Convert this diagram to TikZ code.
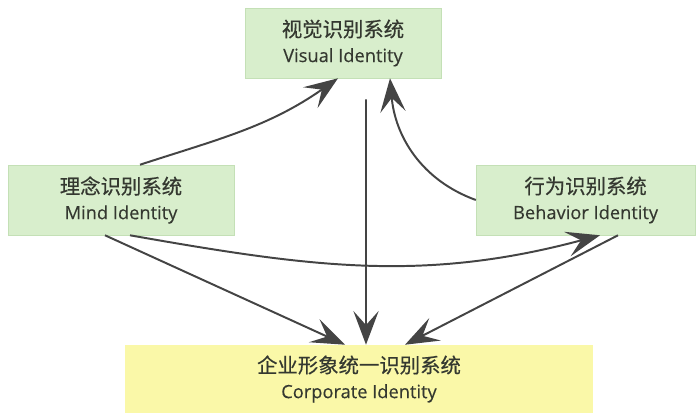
\documentclass[tikz,border=0pt]{standalone}
\usepackage{fontspec}
\setmainfont[FakeBold=0.25]{Open Sans}
\newfontfamily\cjk[FakeBold=0.5]{Noto Sans CJK SC}
\usetikzlibrary{arrows.meta, positioning}
\definecolor{cigreen}{RGB}{216, 238, 204}
\definecolor{cigreenedge}{RGB}{196, 224, 182}
\definecolor{ciyellow}{RGB}{250, 248, 168}
\definecolor{citext}{RGB}{52, 56, 48}
\definecolor{ciarrow}{RGB}{68, 68, 68}
\tikzset{
  cibox/.style={rectangle, draw=cigreenedge, fill=cigreen, text=citext,
                minimum width=#1, minimum height=1.75cm, align=center,
                font=\fontsize{13}{18}\selectfont},
  cibox/.default=5.5cm,
  corpbox/.style={rectangle, draw=none, fill=ciyellow, text=citext,
                  minimum width=11.7cm, minimum height=1.7cm, align=center,
                  font=\fontsize{13}{18}\selectfont},
  flow/.style={-{Stealth[length=24pt, width=18pt, inset=10pt]}, line width=1.4pt, color=ciarrow},
}
\begin{document}
\begin{tikzpicture}
  \useasboundingbox (0,0) rectangle (17.5,10.325);

  % the four systems
  \node[cibox=4.9cm] (vis) at (8.575, 9.25) {{\cjk\fontsize{14.5}{18}\selectfont 视觉识别系统}\\Visual Identity};
  \node[cibox=5.65cm] (mind) at (3.025, 5.325) {{\cjk\fontsize{14.5}{18}\selectfont 理念识别系统}\\Mind Identity};
  \node[cibox=5.475cm] (beh) at (14.64, 5.325) {{\cjk\fontsize{14.5}{18}\selectfont 行为识别系统}\\Behavior Identity};
  \node[corpbox] (corp) at (8.975, 0.85) {{\cjk\fontsize{14.5}{18}\selectfont 企业形象统一识别系统}\\Corporate Identity};

  % links between them
  \draw[flow] ([xshift=0.475cm]mind.north) to[out=18, in=-145] ([xshift=-0.125cm]vis.south);
  \draw[flow] (beh.west) to[out=160, in=-85] ([xshift=1.175cm]vis.south);
  \draw[flow, line width=1.1pt, shorten <=15pt] ([xshift=0.575cm]vis.south) -- ([xshift=0.175cm]corp.north);
  \draw[flow] ([xshift=0.225cm]mind.south) to[out=-10, in=-165] ([xshift=0.36cm]beh.south);
  \draw[flow] ([xshift=-0.4cm]mind.south) -- ([xshift=-0.35cm]corp.north);
  \draw[flow] ([xshift=0.81cm]beh.south) -- ([xshift=1.15cm]corp.north);
\end{tikzpicture}
\end{document}
